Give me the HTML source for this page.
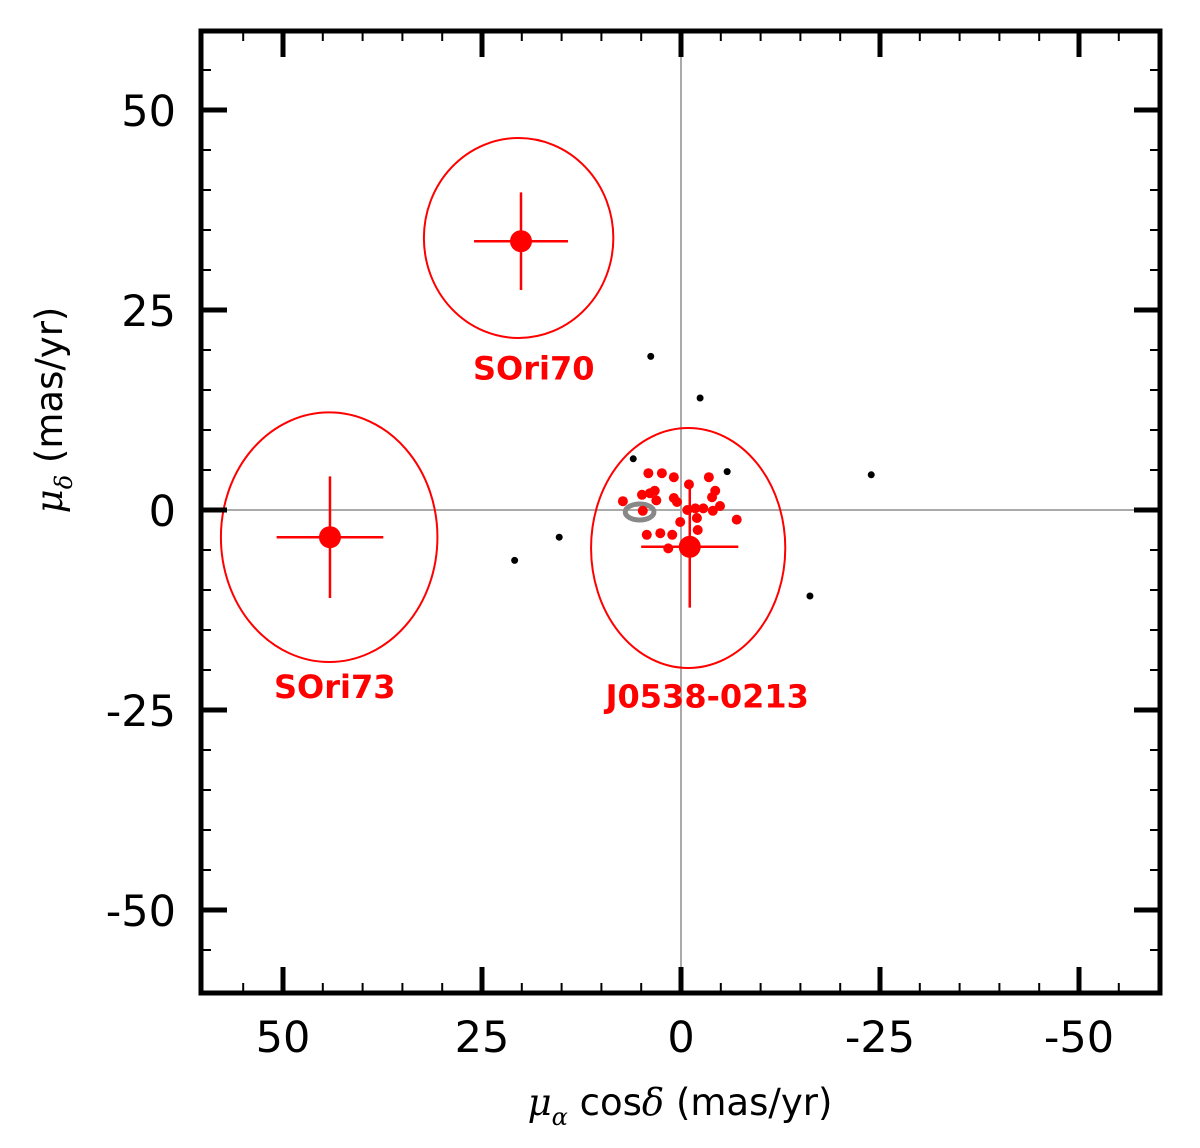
<!DOCTYPE html>
<html><head><meta charset="utf-8"><style>
body{margin:0;background:#fff}
svg{display:block;font-family:"DejaVu Sans","Liberation Sans",sans-serif}
</style></head><body>
<svg id="chart" width="1200" height="1148" viewBox="0 0 1200 1148">
<g id="grid"></g><g id="marks"></g><g id="axes"></g>
<text x="680" y="1115" text-anchor="middle" font-size="37"><tspan font-family="DejaVu Serif" font-style="italic">μ</tspan><tspan font-family="DejaVu Serif" font-style="italic" font-size="24" dy="10">α</tspan><tspan dy="-10"> cos</tspan><tspan font-family="DejaVu Serif" font-style="italic">δ</tspan> (mas/yr)</text>
<text transform="translate(62,410) rotate(-90)" text-anchor="middle" font-size="37"><tspan font-family="DejaVu Serif" font-style="italic">μ</tspan><tspan font-family="DejaVu Serif" font-style="italic" font-size="24" dy="10">δ</tspan><tspan dy="-10"> (mas/yr)</tspan></text>
</svg>
<script>
const clusterX=[4.1,2.4,0.9,-3.5,-1.0,-4.3,3.3,4.9,3.9,3.1,0.9,-3.9,7.3,-4.9,0.5,4.8,-0.8,-1.8,-2.8,-4.0,-2.0,0.1,-7.0,-2.1,4.3,2.6,1.1,1.6];
const clusterY=[4.6,4.6,4.1,4.1,3.2,2.4,2.4,1.9,2.1,1.2,1.5,1.6,1.1,0.5,1.0,-0.1,0,0.2,0.2,-0.1,-1.0,-1.5,-1.2,-2.5,-3.1,-2.9,-3.1,-4.8];
const fieldX=[6.0,-5.8,3.8,-2.4,-23.9,20.9,15.3,-16.2];
const fieldY=[6.4,4.8,19.2,14.0,4.4,-6.3,-3.4,-10.75];
const targetNames=["SOri70","SOri73","J0538-0213"];
const targetX=[20.1,44.1,-1.1];
const targetY=[33.6,-3.4,-4.6];
const targetErrX=[5.9,6.7,6.1];
const targetErrY=[6.1,7.6,7.6];
const ellipseX=[20.4,44.2,-0.9];
const ellipseY=[34,-3.4,-4.75];
const ellipseRX=[11.9,13.6,12.2];
const ellipseRY=[12.5,15.6,15];
const labelX=[18.5,43.5,-3.3];
const labelY=[16.3,-23.5,-24.7];
const xTicks=[50,25,0,-25,-50];
const yTicks=[50,25,0,-25,-50];
const xTickLabels=["50","25","0","-25","-50"];
const yTickLabels=["50","25","0","-25","-50"];
const gray=[5.2,-0.25,1.8,1.0];

const L=201,R=1160,T=31,B=993,X0=681,Y0=510,SX=7.96,SY=8;
const sx=v=>X0-v*SX, sy=v=>Y0-v*SY;
const NS="http://www.w3.org/2000/svg";
function mk(p,t,a){const e=document.createElementNS(NS,t);for(const k in a)e.setAttribute(k,a[k]);p.appendChild(e);return e;}
const grid=document.getElementById('grid'),marks=document.getElementById('marks'),axes=document.getElementById('axes');
let g=mk(grid,'line',{x1:sx(0),x2:sx(0),y1:T,y2:B,stroke:'#aaa','stroke-width':2});

g=mk(grid,'line',{x1:L,x2:R,y1:sy(0),y2:sy(0),stroke:'#aaa','stroke-width':2});


for(let i=0;i<3;i++){
  let e=mk(marks,'ellipse',{cx:sx(ellipseX[i]),cy:sy(ellipseY[i]),rx:ellipseRX[i]*SX,ry:ellipseRY[i]*SY,fill:'none',stroke:'#f00','stroke-width':2});
  
}
let ge=mk(marks,'ellipse',{cx:sx(gray[0]),cy:sy(gray[1]),rx:gray[2]*SX,ry:gray[3]*SY,fill:'none',stroke:'#888','stroke-width':5});

for(let i=0;i<fieldX.length;i++){
  let c=mk(marks,'circle',{cx:sx(fieldX[i]),cy:sy(fieldY[i]),r:3.5,fill:'#000'});
  
}
for(let i=0;i<clusterX.length;i++){
  let c=mk(marks,'circle',{cx:sx(clusterX[i]),cy:sy(clusterY[i]),r:5,fill:'#f00'});
  
}
for(let i=0;i<3;i++){
  const x=sx(targetX[i]),y=sy(targetY[i]);
  let h=mk(marks,'line',{x1:sx(targetX[i]+targetErrX[i]),x2:sx(targetX[i]-targetErrX[i]),y1:y,y2:y,stroke:'#f00','stroke-width':2.5});
  
  let v=mk(marks,'line',{x1:x,x2:x,y1:sy(targetY[i]+targetErrY[i]),y2:sy(targetY[i]-targetErrY[i]),stroke:'#f00','stroke-width':2.5});
  
  let c=mk(marks,'circle',{cx:x,cy:y,r:11,fill:'#f00'});
  
  let t=mk(marks,'text',{x:sx(labelX[i]),y:sy(labelY[i]),'text-anchor':'middle','font-size':32,'font-weight':'bold',fill:'#f00'});
  t.textContent=targetNames[i];
  
}
let f=mk(axes,'rect',{x:L,y:T,width:R-L,height:B-T,fill:'none',stroke:'#000','stroke-width':5});

for(let v=-60;v<=60;v+=5){
  const maj=v%25===0, len=maj?26:10, w=maj?5:2;
  const x=sx(v);
  if(x>L+3&&x<R-3){mk(axes,'line',{x1:x,x2:x,y1:T,y2:T+len,stroke:'#000','stroke-width':w});mk(axes,'line',{x1:x,x2:x,y1:B,y2:B-len,stroke:'#000','stroke-width':w});}
  const y=sy(v);
  if(y>T+3&&y<B-3){mk(axes,'line',{x1:L,x2:L+len,y1:y,y2:y,stroke:'#000','stroke-width':w});mk(axes,'line',{x1:R,x2:R-len,y1:y,y2:y,stroke:'#000','stroke-width':w});}
}
for(let i=0;i<xTicks.length;i++){
  let t=mk(axes,'text',{x:sx(xTicks[i]),y:1052,'text-anchor':'middle','font-size':43});
  t.textContent=xTickLabels[i];
}
for(let i=0;i<yTicks.length;i++){
  let t=mk(axes,'text',{x:176,y:sy(yTicks[i])+16,'text-anchor':'end','font-size':43});
  t.textContent=yTickLabels[i];
}
</script>
</body></html>
